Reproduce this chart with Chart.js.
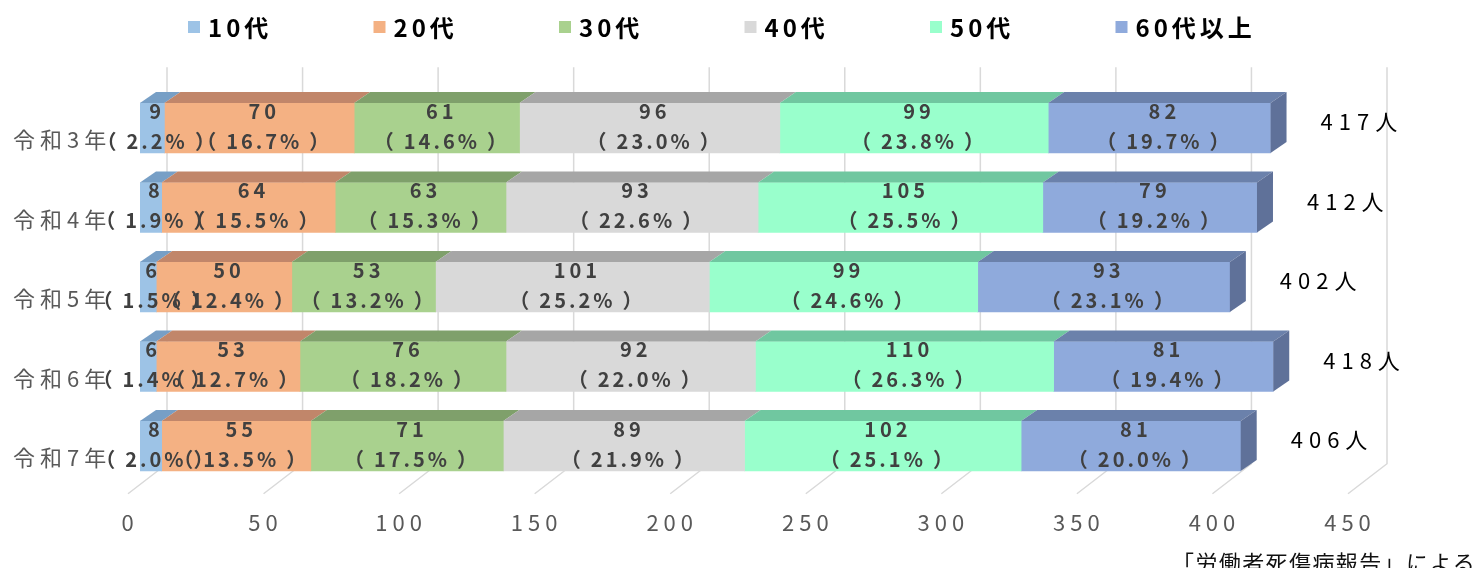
<!DOCTYPE html>
<html lang="ja">
<head>
<meta charset="utf-8">
<title>年代別死傷者数</title>
<script src="https://cdn.jsdelivr.net/npm/chart.js@4.4.1/dist/chart.umd.min.js"></script>
<style>
  html, body { margin: 0; padding: 0; background: #fff; }
</style>
</head>
<body>
<canvas id="ageChart" width="1477" height="568"></canvas>
<script>
// data
const years = ['令和3年', '令和4年', '令和5年', '令和6年', '令和7年'];
const ageGroups = ['10代', '20代', '30代', '40代', '50代', '60代以上'];

const age10 = [9, 8, 6, 6, 8];
const age20 = [70, 64, 50, 53, 55];
const age30 = [61, 63, 53, 76, 71];
const age40 = [96, 93, 101, 92, 89];
const age50 = [99, 105, 99, 110, 102];
const age60 = [82, 79, 93, 81, 81];

const pct10 = [2.2, 1.9, 1.5, 1.4, 2.0];
const pct20 = [16.7, 15.5, 12.4, 12.7, 13.5];
const pct30 = [14.6, 15.3, 13.2, 18.2, 17.5];
const pct40 = [23.0, 22.6, 25.2, 22.0, 21.9];
const pct50 = [23.8, 25.5, 24.6, 26.3, 25.1];
const pct60 = [19.7, 19.2, 23.1, 19.4, 20.0];

const totals = [417, 412, 402, 418, 406];
const xTicks = [0, 50, 100, 150, 200, 250, 300, 350, 400, 450];

const source = '「労働者死傷病報告」による';

// styles
const frontColors = ['#9DC3E6', '#F4B183', '#A9D18E', '#D9D9D9', '#99FFCC', '#8FAADC'];
const topColors = ['#779FC6', '#C1866A', '#7FA06B', '#A6A6A6', '#70C7A0', '#6B81AB'];
const sideColor = '#5F7199';
const DX = 16, DY = -11;

const seriesValues = [age10, age20, age30, age40, age50, age60];
const seriesPct = [pct10, pct20, pct30, pct40, pct50, pct60];

Chart.defaults.font.family = "'Noto Sans CJK JP', 'Noto Sans', sans-serif";

const depthPlugin = {
  id: 'depth',
  beforeDraw(chart) {
    chart.ctx.letterSpacing = '5px';
  },
  beforeDatasetsDraw(chart) {
    // back wall + floor grid lines
    const { ctx, chartArea: a, scales: { x } } = chart;
    ctx.save();
    ctx.strokeStyle = '#d9d9d9';
    ctx.lineWidth = 1.5;
    xTicks.forEach(v => {
      const px = x.getPixelForValue(v);
      ctx.beginPath();
      ctx.moveTo(px + 27, a.top - 21);
      ctx.lineTo(px + 27, a.bottom - 22);
      ctx.lineTo(px - 12, a.bottom + 8);
      ctx.stroke();
    });
    ctx.restore();
  },
  afterDatasetsDraw(chart) {
    const { ctx, scales: { x } } = chart;
    const n = chart.data.datasets.length;
    ctx.save();

    // top faces
    for (let i = 0; i < n; i++) {
      chart.getDatasetMeta(i).data.forEach(bar => {
        const { x: x1, y, base: x0, height: h } = bar.getProps(['x', 'y', 'base', 'height'], true);
        const top = y - h / 2;
        ctx.fillStyle = topColors[i];
        ctx.beginPath();
        ctx.moveTo(x0, top);
        ctx.lineTo(x1, top);
        ctx.lineTo(x1 + DX, top + DY);
        ctx.lineTo(x0 + DX, top + DY);
        ctx.closePath();
        ctx.fill();
      });
    }

    // side face at the end of each stack
    chart.getDatasetMeta(n - 1).data.forEach(bar => {
      const { x: x1, y, height: h } = bar.getProps(['x', 'y', 'height'], true);
      const top = y - h / 2, bottom = y + h / 2;
      ctx.fillStyle = sideColor;
      ctx.beginPath();
      ctx.moveTo(x1, top);
      ctx.lineTo(x1 + DX, top + DY);
      ctx.lineTo(x1 + DX, bottom + DY);
      ctx.lineTo(x1, bottom);
      ctx.closePath();
      ctx.fill();
    });

    // value / percentage labels
    ctx.fillStyle = '#404040';
    ctx.font = "bold 20px 'Noto Sans CJK JP', sans-serif";
    ctx.textAlign = 'center';
    ctx.textBaseline = 'middle';
    for (let i = 0; i < n; i++) {
      chart.getDatasetMeta(i).data.forEach((bar, j) => {
        const { x: x1, y, base: x0 } = bar.getProps(['x', 'y', 'base'], true);
        const cx = (x0 + x1) / 2 + 5;
        ctx.letterSpacing = '4px';
        ctx.fillText(String(seriesValues[i][j]), cx, y - 17);
        ctx.letterSpacing = '3px';
        ctx.fillText('（\u2009' + seriesPct[i][j].toFixed(1) + '%\u2009）', cx, y + 13);
      });
    }

    // totals
    ctx.fillStyle = '#000';
    ctx.font = "22px 'Noto Sans CJK JP', sans-serif";
    ctx.letterSpacing = '6px';
    ctx.textAlign = 'left';
    chart.getDatasetMeta(n - 1).data.forEach((bar, j) => {
      ctx.fillText(totals[j] + '人', x.getPixelForValue(totals[j]) + DX + 34, bar.y - 6);
    });
    ctx.restore();
  },
  afterDraw(chart) {
    const { ctx } = chart;
    ctx.save();
    // legend
    ctx.textBaseline = 'middle';
    ctx.textAlign = 'left';
    ctx.font = "bold 24px 'Noto Sans CJK JP', sans-serif";
    ctx.letterSpacing = '4px';
    ageGroups.forEach((name, i) => {
      const sx = 188 + i * 185.5;
      ctx.fillStyle = frontColors[i];
      ctx.fillRect(sx, 21, 12, 12);
      ctx.fillStyle = '#000';
      ctx.fillText(name, sx + 20, 28);
    });
    // source note
    ctx.font = "22px 'Noto Sans CJK JP', sans-serif";
    ctx.letterSpacing = '1.4px';
    ctx.textBaseline = 'alphabetic';
    ctx.fillStyle = '#111';
    ctx.fillText(source, 1172, 571);
    ctx.restore();
  }
};

new Chart(document.getElementById('ageChart'), {
  type: 'bar',
  data: {
    labels: years,
    datasets: ageGroups.map((name, i) => ({
      label: name,
      data: seriesValues[i],
      backgroundColor: frontColors[i],
      borderWidth: 0,
      barThickness: 50
    }))
  },
  options: {
    indexAxis: 'y',
    responsive: false,
    animation: false,
    layout: { padding: { top: 88.25, left: 13, right: 117, bottom: 0 } },
    plugins: {
      legend: { display: false },
      tooltip: { enabled: false }
    },
    scales: {
      x: {
        stacked: true,
        min: 0,
        max: 450,
        afterBuildTicks: s => { s.ticks = xTicks.map(v => ({ value: v })); },
        afterFit: s => { s.height = 82.25; },
        grid: { display: false, drawTicks: false },
        border: { display: false },
        ticks: { color: '#595959', font: { size: 22 }, padding: 24, labelOffset: -10 }
      },
      y: {
        stacked: true,
        afterFit: s => { s.width = 127; },
        grid: { display: false, drawTicks: false },
        border: { display: false },
        ticks: { color: '#595959', font: { size: 22 }, crossAlign: 'far', labelOffset: 12, padding: 0 }
      }
    }
  },
  plugins: [depthPlugin]
});
</script>
</body>
</html>
